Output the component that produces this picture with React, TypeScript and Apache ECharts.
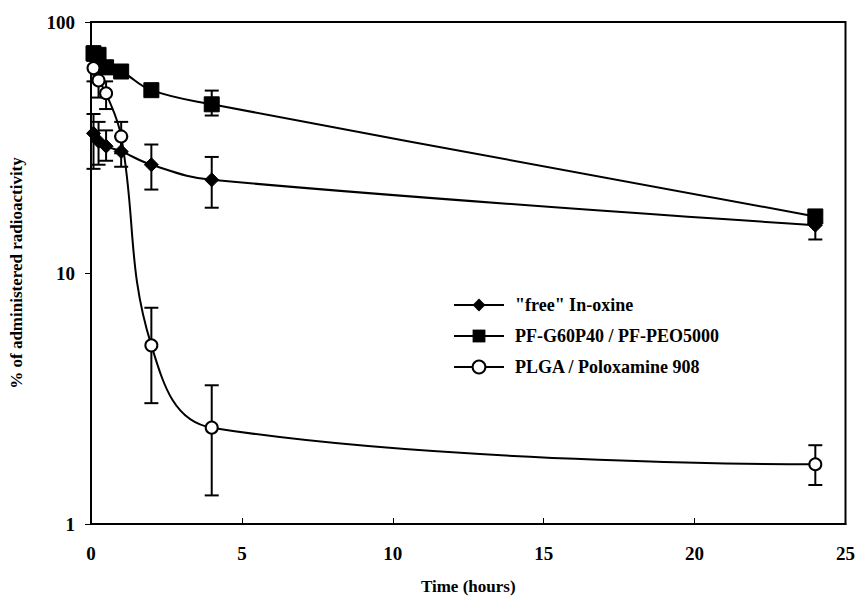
import React, { useEffect, useRef } from "react";
import * as echarts from "echarts";

const times = [0.083, 0.25, 0.5, 1, 2, 4, 24];

const freeMean = [36, 33.5, 32, 30.5, 27, 23.5, 15.5];
const freeLow = [26, 27, 28, 26.5, 21.5, 18.2, 13.6];
const freeHigh = [43, 40, 37, 35, 32.5, 29, 17.5];

const pfMean = [75, 74, 66, 63.5, 53.5, 47, 16.8];
const pfLow = [70, 70, 62, 60, 51, 42.4, 16.2];
const pfHigh = [80, 78, 70, 67, 56, 53.3, 17.4];

const plgaMean = [65.5, 58.5, 52, 35, 5.15, 2.42, 1.73];
const plgaLow = [58, 50, 45, 30, 3.03, 1.3, 1.43];
const plgaHigh = [73, 66, 58, 40, 7.27, 3.57, 2.06];

const seriesNames = ['"free" In-oxine', "PF-G60P40 / PF-PEO5000", "PLGA / Poloxamine 908"];
const yTicks = [1, 10, 100];
const xTicks = [0, 5, 10, 15, 20, 25];

const FONT = "'Liberation Serif', 'Times New Roman', serif";

export default function App() {
  const ref = useRef<HTMLDivElement>(null);
  useEffect(() => {
    if (!ref.current) return;
    const chart = echarts.init(ref.current, undefined, { renderer: "svg" });
    const pts = (m: number[]) => times.map((t, i) => [t, m[i]]);
    const errData: number[][] = [];
    const addErr = (lo: number[], hi: number[]) =>
      times.forEach((t, i) => errData.push([t, lo[i], hi[i]]));
    addErr(freeLow, freeHigh);
    addErr(pfLow, pfHigh);
    addErr(plgaLow, plgaHigh);

    const lineBase = {
      type: "line" as const,
      smooth: 0.4,
      lineStyle: { color: "#000", width: 2 },
      itemStyle: { color: "#000", borderColor: "#000" },
      z: 3,
    };

    chart.setOption({
      animation: false,
      backgroundColor: "#fff",
      textStyle: { fontFamily: FONT, color: "#000" },
      grid: {
        left: 85,
        right: 12,
        top: 22,
        bottom: 76,
        show: true,
        borderColor: "#000",
        borderWidth: 2,
        backgroundColor: "transparent",
      },
      legend: {
        data: seriesNames,
        orient: "vertical",
        left: 453,
        top: 296,
        padding: 0,
        itemWidth: 50,
        itemHeight: 16,
        itemGap: 13,
        textStyle: {
          fontFamily: FONT,
          fontSize: 18,
          fontWeight: "bold",
          color: "#000",
          lineHeight: 18,
          padding: [0, 0, 0, 6],
        },
      },
      xAxis: {
        type: "value",
        min: 0,
        max: 25,
        interval: 5,
        name: "Time (hours)",
        nameLocation: "middle",
        nameGap: 54,
        nameTextStyle: { fontFamily: FONT, fontSize: 17, fontWeight: "bold", color: "#000" },
        axisLine: { lineStyle: { color: "#000", width: 2 } },
        axisTick: { inside: true, length: 6, lineStyle: { color: "#000", width: 1 } },
        splitLine: { show: false },
        axisLabel: {
          fontFamily: FONT,
          fontSize: 19,
          fontWeight: "bold",
          color: "#000",
          margin: 20,
          formatter: (v: number) => (xTicks.includes(v) ? String(v) : ""),
        },
      },
      yAxis: {
        type: "log",
        logBase: 10,
        min: 1,
        max: 100,
        name: "% of administered radioactivity",
        nameLocation: "middle",
        nameGap: 66,
        nameTextStyle: { fontFamily: FONT, fontSize: 17, fontWeight: "bold", color: "#000" },
        axisLine: { lineStyle: { color: "#000", width: 2 } },
        axisTick: { length: 6, lineStyle: { color: "#000", width: 1 } },
        splitLine: { show: false },
        minorTick: { show: false },
        axisLabel: {
          fontFamily: FONT,
          fontSize: 19,
          fontWeight: "bold",
          color: "#000",
          margin: 16,
          formatter: (v: number) => (yTicks.includes(Math.round(v)) ? String(Math.round(v)) : ""),
        },
      },
      series: [
        {
          type: "custom",
          name: "err",
          z: 1,
          silent: true,
          data: errData,
          encode: { x: 0, y: [1, 2] },
          renderItem: (params: any, api: any) => {
            const x = api.value(0);
            const lo = api.coord([x, api.value(1)]);
            const hi = api.coord([x, api.value(2)]);
            const w = 7;
            const style = { stroke: "#000", lineWidth: 2 };
            return {
              type: "group",
              children: [
                { type: "line", shape: { x1: lo[0], y1: lo[1], x2: hi[0], y2: hi[1] }, style },
                { type: "line", shape: { x1: lo[0] - w, y1: lo[1], x2: lo[0] + w, y2: lo[1] }, style },
                { type: "line", shape: { x1: hi[0] - w, y1: hi[1], x2: hi[0] + w, y2: hi[1] }, style },
              ],
            };
          },
        },
        {
          ...lineBase,
          name: seriesNames[0],
          data: pts(freeMean),
          symbol: "diamond",
          symbolSize: 14,
        },
        {
          ...lineBase,
          name: seriesNames[1],
          data: pts(pfMean),
          symbol: "rect",
          symbolSize: 15,
        },
        {
          ...lineBase,
          name: seriesNames[2],
          data: pts(plgaMean),
          symbol: "circle",
          symbolSize: 12,
          itemStyle: { color: "#fff", borderColor: "#000", borderWidth: 2 },
        },
      ],
    });
    return () => chart.dispose();
  }, []);
  return (
    <div
      ref={ref}
      style={{ position: "fixed", left: 0, top: 0, width: 858, height: 600 }}
    />
  );
}
